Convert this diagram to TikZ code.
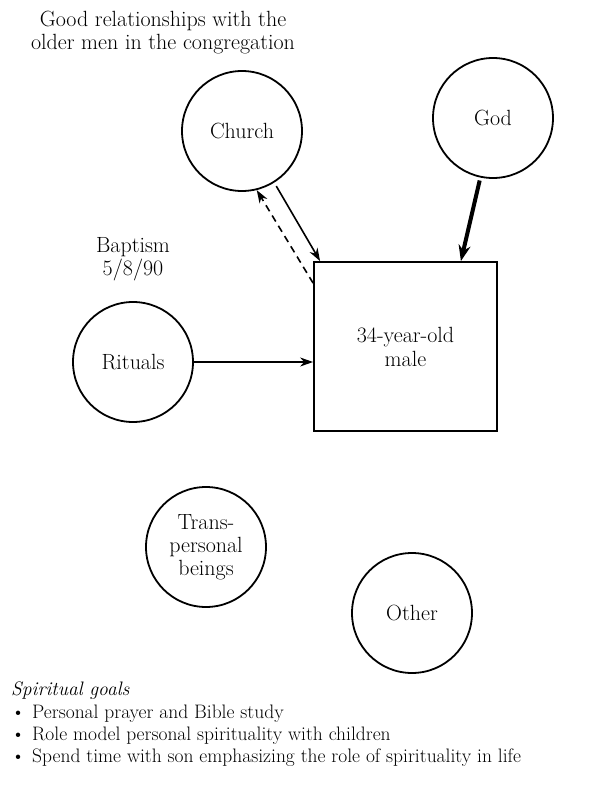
\documentclass[tikz,border=0pt]{standalone}
\usetikzlibrary{arrows.meta}
\begin{document}
\begin{tikzpicture}[x=1pt,y=-1pt,
  txt/.style={font=\fontsize{22}{23}\selectfont, align=center, inner sep=0pt},
  circ/.style={draw, circle, line width=1.8pt, minimum size=120pt, inner sep=0pt, txt},
  sq/.style={draw, rectangle, line width=1.8pt, minimum width=183pt, minimum height=169pt, inner sep=0pt, txt},
  conn/.style={line width=1.6pt, -{Stealth[length=13pt,width=9pt]}},
  thickconn/.style={line width=4pt, -{Stealth[length=16pt,width=12pt]}}]
\useasboundingbox (0,0) rectangle (592,789);
\node[circ] (church) at (242,131) {Church};
\node[circ] (god) at (493,118) {God};
\node[sq] (box) at (405.5,346.5) {34-year-old\\[1pt]male};
\node[circ] (rituals) at (133,362) {Rituals};
\node[circ] (trans) at (206,547) {Trans-\\personal\\beings};
\node[circ] (other) at (412,613) {Other};
\node[txt] (rel) at (163,33) {Good relationships with the\\older men in the congregation};
\node[txt] (bapt) at (133,259) {Baptism\\5/8/90};
\draw[conn, shorten <=4pt] (church.-58) -- ([xshift=7pt]box.north west);
\draw[conn, dashed, dash pattern=on 7pt off 5pt] ([yshift=-22pt]box.north west) -- (church.-76);
\draw[thickconn, shorten <=3pt] (god.-102) -- ([xshift=-37pt]box.north east);
\draw[conn] (rituals.east) -- (rituals.east -| box.west);
\node[txt, anchor=north west, align=left, font=\fontsize{19.5}{22.3}\selectfont] (goals) at (11,682)
 {\textit{Spiritual goals}\\
  \textbullet\hspace{7pt}Personal prayer and Bible study\\
  \textbullet\hspace{7pt}Role model personal spirituality with children\\
  \textbullet\hspace{7pt}Spend time with son emphasizing the role of spirituality in life};
\end{tikzpicture}
\end{document}
